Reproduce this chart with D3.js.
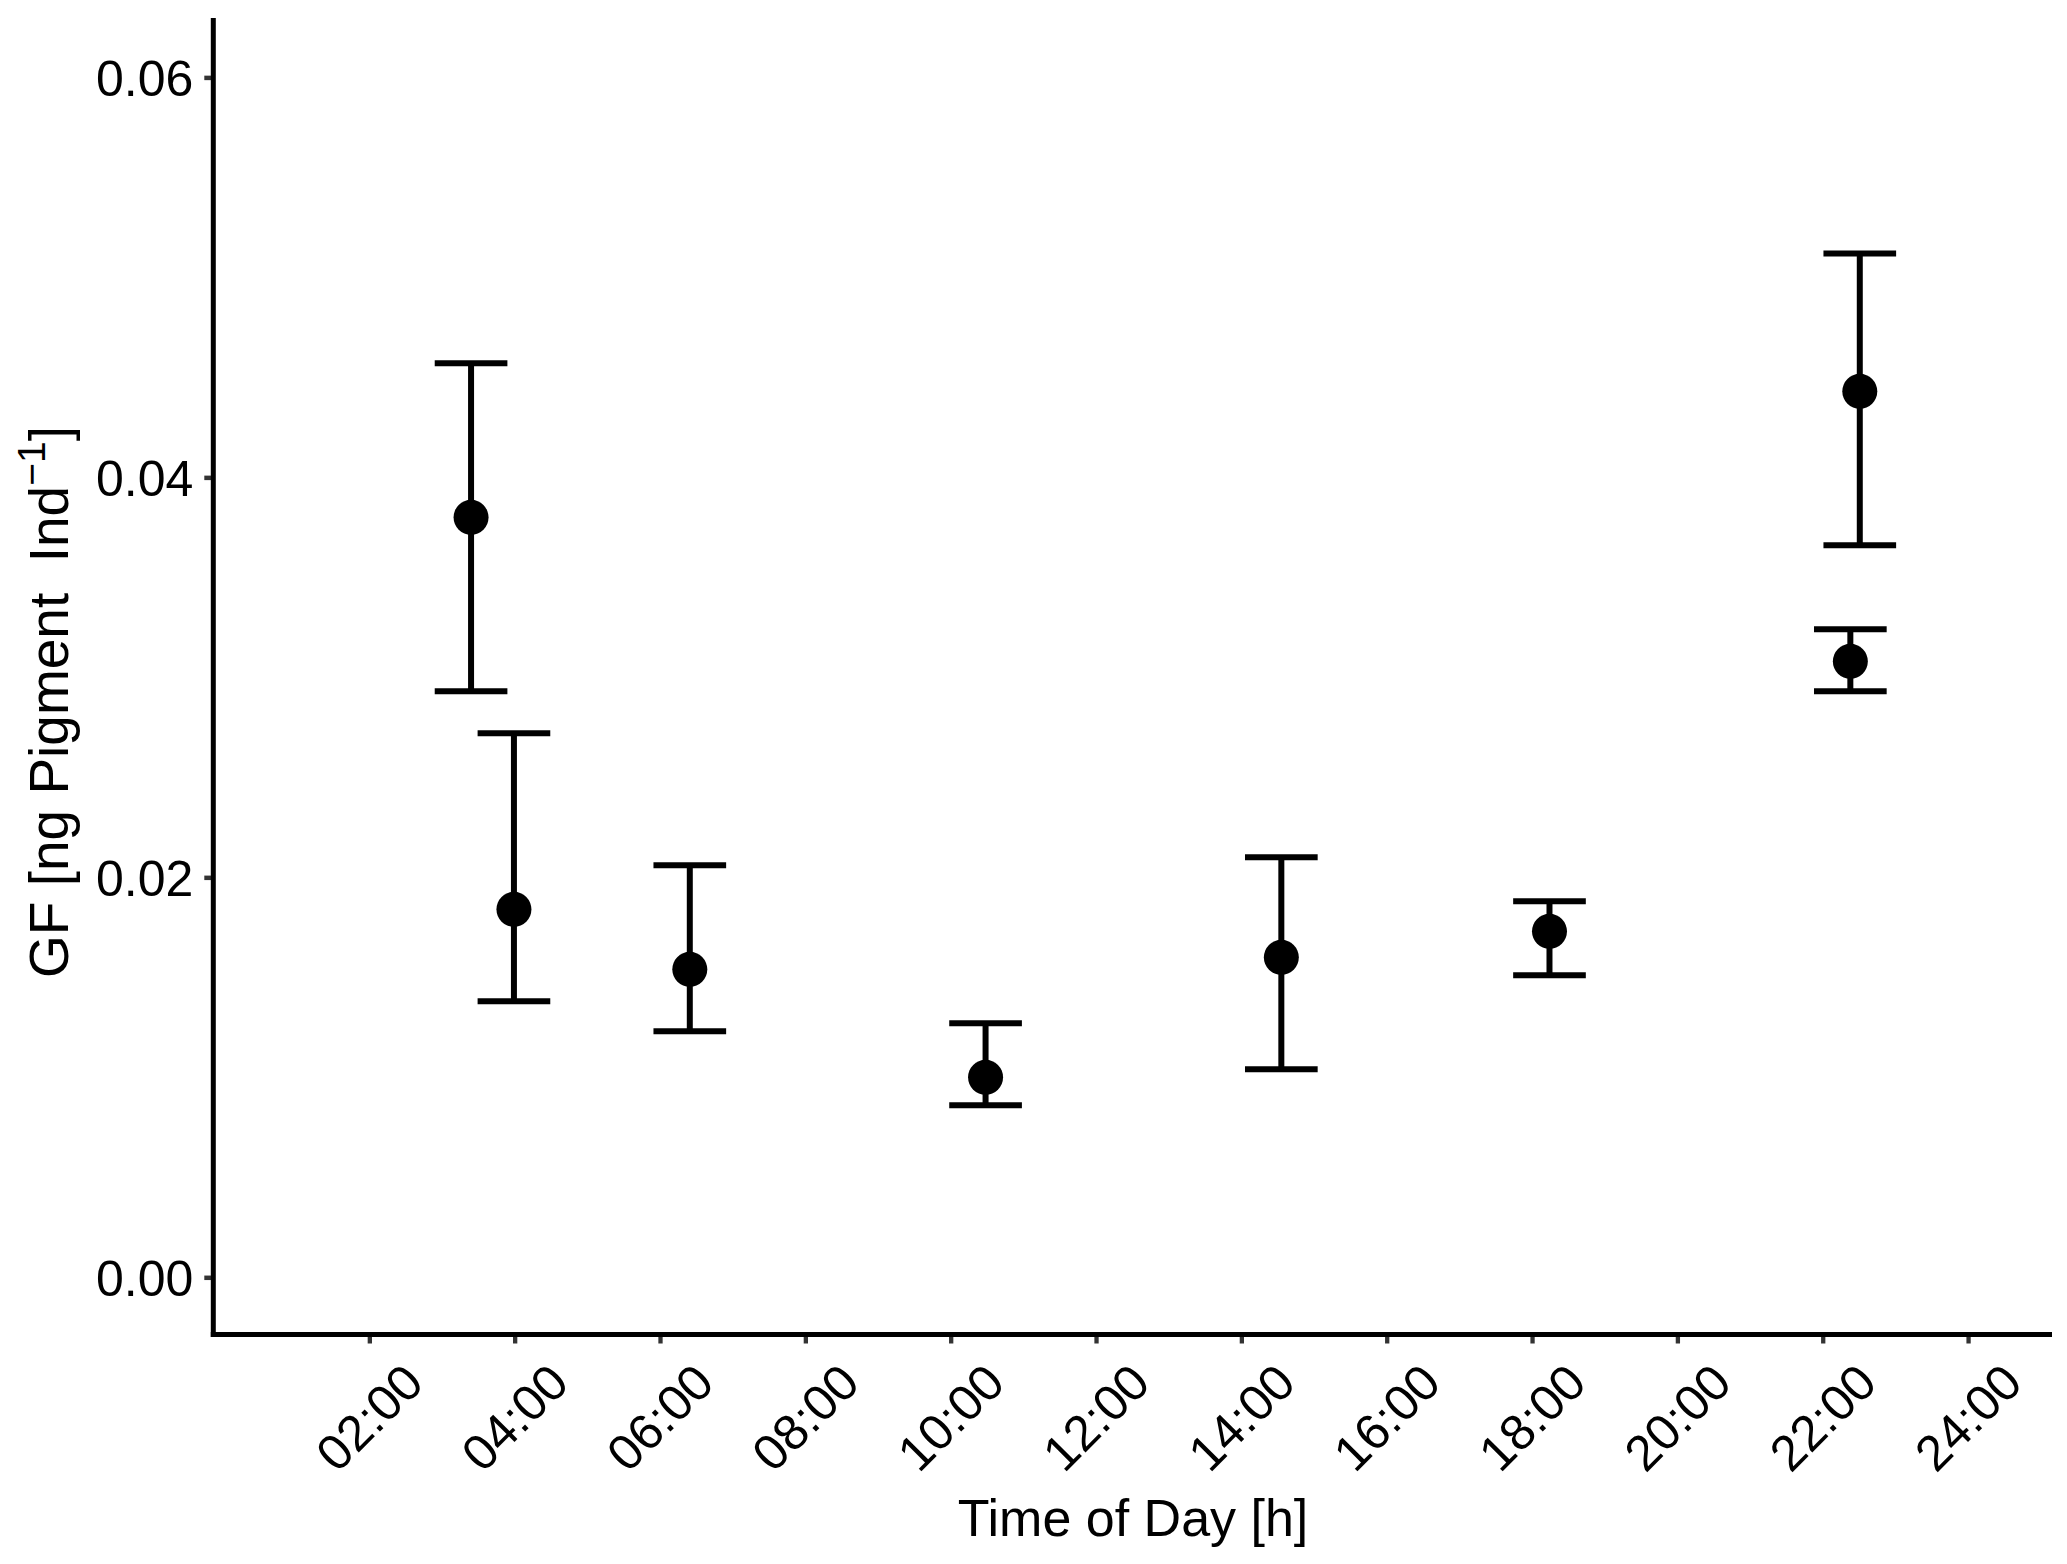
<!DOCTYPE html>
<html>
<head>
<meta charset="utf-8">
<script src="https://cdn.jsdelivr.net/npm/d3@7"></script>
<style>
  html, body { margin: 0; padding: 0; background: #ffffff; }
  svg { display: block; }
  text { font-family: "Liberation Sans", Arial, Helvetica, sans-serif; fill: #000; }
</style>
</head>
<body>
<svg id="chart" width="2067" height="1564"></svg>
<script>
// ---- data ----
const hours = [3.40, 3.99, 6.41, 10.48, 14.55, 18.24, 22.51, 22.38];
const gfMean = [0.0380, 0.0184, 0.0154, 0.0100, 0.0160, 0.0173, 0.0443, 0.0308];
const gfUpper = [0.0457, 0.0272, 0.0206, 0.0127, 0.0210, 0.0188, 0.0512, 0.0324];
const gfLower = [0.0293, 0.0138, 0.0123, 0.0086, 0.0104, 0.0151, 0.0366, 0.0293];
const xTickValues = [2, 4, 6, 8, 10, 12, 14, 16, 18, 20, 22, 24];
const xTickLabels = ["02:00","04:00","06:00","08:00","10:00","12:00","14:00","16:00","18:00","20:00","22:00","24:00"];
const yTickValues = [0.00, 0.02, 0.04, 0.06];
const capWidthHours = 1.0;

const points = hours.map((h, i) => ({ h, m: gfMean[i], hi: gfUpper[i], lo: gfLower[i] }));

const svg = d3.select("#chart");
const pLeft = 213.3, pRight = 2052, pTop = 18, pBottom = 1334.5;

const x = d3.scaleLinear().domain([-0.147, 25.155]).range([pLeft, pRight]);
const y = d3.scaleLinear().domain([-0.00286, 0.06297]).range([pBottom, pTop]);

// ---- axes ----
const xAxis = d3.axisBottom(x).tickValues(xTickValues)
  .tickFormat((d, i) => xTickLabels[i]).tickSize(9).tickSizeOuter(0);
const yAxis = d3.axisLeft(y).tickValues(yTickValues)
  .tickFormat(d3.format(".2f")).tickSize(9).tickSizeOuter(0);

const gx = svg.append("g").attr("transform", `translate(0,${pBottom})`).call(xAxis);
gx.select(".domain").remove();
gx.selectAll(".tick line").attr("stroke", "#333333").attr("stroke-width", 4.3);
gx.selectAll(".tick text")
  .attr("font-size", 50)
  .attr("text-anchor", "end")
  .attr("dy", null)
  .attr("y", null)
  .attr("transform", "translate(56,51) rotate(-45)");

const gy = svg.append("g").attr("transform", `translate(${pLeft},0)`).call(yAxis);
gy.select(".domain").remove();
gy.selectAll(".tick line").attr("stroke", "#333333").attr("stroke-width", 4.5);
gy.selectAll(".tick text")
  .attr("font-size", 50)
  .attr("x", -20)
  .attr("dy", "0.36em");

// axis lines (theme_classic)
svg.append("line").attr("x1", pLeft).attr("x2", pLeft).attr("y1", pTop).attr("y2", pBottom + 2.5)
  .attr("stroke", "#000").attr("stroke-width", 5);
svg.append("line").attr("x1", pLeft - 2.5).attr("x2", pRight).attr("y1", pBottom).attr("y2", pBottom)
  .attr("stroke", "#000").attr("stroke-width", 5);

// ---- error bars ----
const eb = svg.append("g").attr("stroke", "#000").attr("stroke-width", 6).attr("fill", "none");
eb.selectAll("line.v").data(points).join("line").attr("class", "v")
  .attr("x1", d => x(d.h)).attr("x2", d => x(d.h))
  .attr("y1", d => y(d.lo)).attr("y2", d => y(d.hi));
eb.selectAll("line.top").data(points).join("line").attr("class", "top")
  .attr("x1", d => x(d.h - capWidthHours / 2)).attr("x2", d => x(d.h + capWidthHours / 2))
  .attr("y1", d => y(d.hi)).attr("y2", d => y(d.hi));
eb.selectAll("line.bot").data(points).join("line").attr("class", "bot")
  .attr("x1", d => x(d.h - capWidthHours / 2)).attr("x2", d => x(d.h + capWidthHours / 2))
  .attr("y1", d => y(d.lo)).attr("y2", d => y(d.lo));

// ---- points ----
svg.append("g").selectAll("circle").data(points).join("circle")
  .attr("cx", d => x(d.h)).attr("cy", d => y(d.m)).attr("r", 17.5).attr("fill", "#000");

// ---- titles ----
svg.append("text").attr("x", 1133).attr("y", 1536).attr("text-anchor", "middle")
  .attr("font-size", 52).text("Time of Day [h]");

const yt = svg.append("text").attr("text-anchor", "middle")
  .attr("transform", "translate(68,702) rotate(-90)").attr("font-size", 55);
yt.append("tspan").text("GF [ng Pigment\u00A0 Ind");
yt.append("tspan").attr("font-size", 39).attr("dy", -23).text("\u22121");
yt.append("tspan").attr("dy", 23).text("]");
</script>
</body>
</html>
